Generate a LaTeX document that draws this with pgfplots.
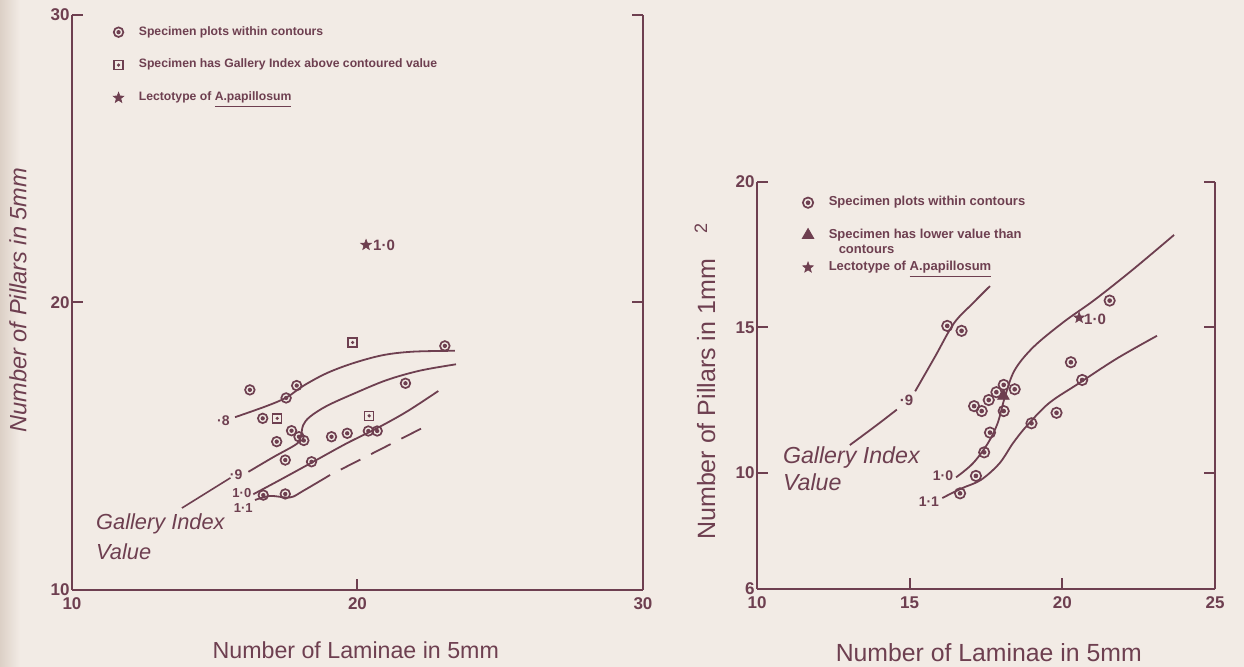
\documentclass[border=0pt]{standalone}
\usepackage{pgfplots}
\pgfplotsset{compat=1.18}
\usepackage{fontspec}
\setmainfont{Liberation Sans}
\definecolor{ink}{HTML}{6E3F50}
\definecolor{bg}{HTML}{F2EBE5}
\definecolor{edge}{HTML}{DCD0C6}

\pgfdeclareplotmark{bull}{%
  \pgfpathcircle{\pgfpointorigin}{\pgfplotmarksize}\pgfusepathqstroke
  \pgfpathcircle{\pgfpointorigin}{0.45\pgfplotmarksize}\pgfusepathqfill}
\pgfdeclareplotmark{sqdot}{%
  \pgfpathrectangle{\pgfpoint{-\pgfplotmarksize}{-\pgfplotmarksize}}{\pgfpoint{2\pgfplotmarksize}{2\pgfplotmarksize}}\pgfusepathqstroke
  \pgfpathcircle{\pgfpointorigin}{0.4\pgfplotmarksize}\pgfusepathqfill}
\pgfdeclareplotmark{fstar}{%
  \pgfpathmoveto{\pgfpointpolar{90}{\pgfplotmarksize}}%
  \pgfpathlineto{\pgfpointpolar{126}{0.42\pgfplotmarksize}}%
  \pgfpathlineto{\pgfpointpolar{162}{\pgfplotmarksize}}%
  \pgfpathlineto{\pgfpointpolar{198}{0.42\pgfplotmarksize}}%
  \pgfpathlineto{\pgfpointpolar{234}{\pgfplotmarksize}}%
  \pgfpathlineto{\pgfpointpolar{270}{0.42\pgfplotmarksize}}%
  \pgfpathlineto{\pgfpointpolar{306}{\pgfplotmarksize}}%
  \pgfpathlineto{\pgfpointpolar{342}{0.42\pgfplotmarksize}}%
  \pgfpathlineto{\pgfpointpolar{18}{\pgfplotmarksize}}%
  \pgfpathlineto{\pgfpointpolar{54}{0.42\pgfplotmarksize}}%
  \pgfpathclose\pgfusepathqfillstroke}

\pgfplotsset{
  scan/.style={
    scale only axis, clip=false,
    axis x line*=bottom, axis y line*=box,
    ytick pos=both, yticklabel pos=left,
    tick align=inside, major tick length=5.5pt,
    axis line style={ink, line width=1pt},
    every tick/.style={ink, line width=1pt},
    /pgf/number format/assume math mode=true,
    ticklabel style={font=\fontsize{8.5}{10}\selectfont\bfseries, text=ink},
    yticklabel style={inner sep=1pt},
    xticklabel style={yshift=-0.5pt},
    legend cell align=left,
    label style={text=ink},
  },
  contour/.style={ink, line width=0.9pt, no marks, smooth, tension=0.55, forget plot},
  pts/.style={only marks, mark=bull, mark size=2.4pt, ink, mark options={line width=0.85pt, fill=ink}},
}

\begin{document}
\begin{tikzpicture}
\fill[bg] (-36pt,-38.5pt) rectangle (586pt,295pt);
\shade[left color=edge, right color=bg] (-36pt,-38.5pt) rectangle (-26pt,295pt);

% ---------------- left panel ----------------
\begin{axis}[scan,
  width=285.5pt, height=287.5pt,
  xmin=10, xmax=30, ymin=10, ymax=30,
  xtick={10,20,30}, ytick={10,20,30},
  xlabel={Number of Laminae in 5mm},
  xlabel style={at={(axis description cs:0.497,-0.104)}, anchor=center, font=\fontsize{11.6}{13}\selectfont},
  ylabel={\itshape Number of Pillars in 5mm},
  ylabel style={at={(axis description cs:-0.0946,0.504)}, anchor=center, font=\fontsize{11.8}{13}\selectfont},
  legend style={draw=none, fill=none, at={(axis description cs:0.061,0.995)}, anchor=north west,
    font=\fontsize{6.1}{7}\selectfont\bfseries, text=ink, row sep=6.5pt,
    /tikz/every odd column/.append style={column sep=5.5pt}},
]
\addplot[pts] coordinates {
(16.23,16.96)(17.87,17.11)(17.50,16.68)(23.06,18.49)(21.68,17.19)(16.68,15.97)
(17.69,15.54)(17.17,15.16)(17.95,15.33)(18.12,15.20)(19.09,15.33)(19.64,15.45)
(20.38,15.53)(20.69,15.53)(17.47,14.52)(18.39,14.46)(16.70,13.30)(17.47,13.34)};
\addlegendentry{Specimen plots within contours}
\addplot[only marks, mark=sqdot, mark size=2.25pt, ink, mark options={line width=0.7pt, fill=ink}] coordinates {
(17.19,15.97)(19.83,18.61)(20.41,16.06)};
\addlegendentry{Specimen has Gallery Index above contoured value}
\addplot[only marks, mark=fstar, mark size=2.8pt, ink, mark options={line width=0.3pt, fill=ink}] coordinates {(20.30,22.0)};
\addlegendentry{Lectotype of \underline{A.papillosum}}

\addplot[contour] coordinates {(15.71,16.01)(16.82,16.40)(17.52,16.70)(18.10,17.10)(18.92,17.54)(19.85,17.89)(20.90,18.17)(21.95,18.29)(23.41,18.32)};
\addplot[contour] coordinates {(16.18,14.11)(17.05,14.62)(17.87,15.08)(18.01,15.33)(18.10,15.74)(18.34,16.03)(18.92,16.40)(19.85,16.82)(21.02,17.30)(22.19,17.63)(23.45,17.85)};
\addplot[contour] coordinates {(16.35,13.33)(17.29,13.83)(18.45,14.46)(19.62,15.10)(20.67,15.62)(21.72,16.20)(22.83,16.92)};
\addplot[contour] coordinates {(16.41,13.13)(16.94,13.27)(17.64,13.22)(18.10,13.45)(19.04,14.0)};
\addplot[ink, line width=0.9pt, no marks, forget plot, dash pattern=on 11pt off 6pt, dash phase=11pt] coordinates {(19.04,14.0)(22.40,15.70)};
\addplot[ink, line width=0.8pt, no marks, forget plot] coordinates {(13.85,12.85)(15.55,13.9)};

\node[text=ink, font=\fontsize{7}{8}\selectfont\bfseries] at (axis cs:15.3,15.9) {·8};
\node[text=ink, font=\fontsize{7}{8}\selectfont\bfseries] at (axis cs:15.75,14.0) {·9};
\node[text=ink, font=\fontsize{6.5}{8}\selectfont\bfseries] at (axis cs:15.95,13.38) {1·0};
\node[text=ink, font=\fontsize{6.5}{8}\selectfont\bfseries] at (axis cs:16.0,12.85) {1·1};
\node[text=ink, font=\fontsize{7.5}{8}\selectfont\bfseries] at (axis cs:20.93,22.0) {1·0};
\node[text=ink, font=\fontsize{10.9}{15}\selectfont\itshape, align=left, anchor=west] at (axis cs:10.6,11.85) {Gallery Index\\Value};
\end{axis}

% ---------------- right panel ----------------
\begin{axis}[scan, at={(342.5pt,0.5pt)}, anchor=south west,
  width=229pt, height=203.5pt,
  xmin=10, xmax=25, ymin=6, ymax=20,
  xtick={10,15,20,25}, ytick={6,10,15,20},
  xlabel={Number of Laminae in 5mm},
  xlabel style={at={(axis description cs:0.506,-0.157)}, anchor=center, font=\fontsize{12.4}{13}\selectfont},
  ylabel={Number of Pillars in 1mm\hspace{13pt}\raisebox{4pt}{\fontsize{9}{9}\selectfont 2}},
  ylabel style={at={(axis description cs:-0.1135,0.51)}, anchor=center, font=\fontsize{12.5}{13}\selectfont},
  legend style={draw=none, fill=none, at={(axis description cs:0.085,0.985)}, anchor=north west,
    font=\fontsize{6.5}{7.5}\selectfont\bfseries, text=ink, row sep=6pt,
    /tikz/every odd column/.append style={column sep=5.5pt}},
]
\addplot[pts, mark size=2.6pt] coordinates {
(16.23,15.05)(16.70,14.88)(21.55,15.92)(20.28,13.80)(20.65,13.19)(19.81,12.06)
(18.99,11.70)(17.11,12.29)(17.36,12.12)(17.59,12.50)(17.84,12.77)(18.08,13.02)
(18.44,12.87)(18.08,12.12)(17.63,11.38)(17.44,10.70)(17.17,9.89)(16.65,9.29)};
\addlegendentry{Specimen plots within contours}
\addplot[only marks, mark=triangle*, mark size=3.3pt, ink, mark options={fill=ink}] coordinates {(18.07,12.64)};
\addlegendentry{\smash{\rlap{\raisebox{-7.5pt}{\hspace{5pt}contours}}}Specimen has lower value than}
\addplot[only marks, mark=fstar, mark size=2.8pt, ink, mark options={line width=0.3pt, fill=ink}] coordinates {(20.55,15.33)};
\addlegendentry{Lectotype of \underline{A.papillosum}}

\addplot[contour] coordinates {(13.04,10.95)(13.9,11.62)(14.58,12.17)};
\addplot[contour] coordinates {(15.18,12.80)(15.83,13.99)(16.45,15.14)(17.07,15.83)(17.63,16.42)};
\addplot[contour] coordinates {(16.52,9.84)(17.07,10.32)(17.56,11.01)(17.88,11.70)(18.12,12.61)(18.44,13.53)(19.06,14.33)(20.05,15.19)(21.05,15.94)(22.29,16.97)(23.66,18.18)};
\addplot[contour] coordinates {(16.07,9.13)(16.70,9.46)(17.33,9.75)(17.94,10.32)(18.38,11.01)(18.81,11.58)(19.56,12.39)(20.55,13.08)(21.79,13.93)(23.10,14.71)};

\node[text=ink, font=\fontsize{7.5}{8}\selectfont\bfseries] at (axis cs:14.9,12.48) {·9};
\node[text=ink, font=\fontsize{7}{8}\selectfont\bfseries, anchor=east, inner sep=1pt] at (axis cs:16.50,9.9) {1·0};
\node[text=ink, font=\fontsize{7}{8}\selectfont\bfseries] at (axis cs:15.63,8.99) {1·1};
\node[text=ink, font=\fontsize{7.5}{8}\selectfont\bfseries] at (axis cs:21.07,15.29) {1·0};
\node[text=ink, font=\fontsize{11.6}{13.5}\selectfont\itshape, align=left, anchor=west] at (axis cs:10.62,10.15) {Gallery Index\\Value};
\end{axis}

\pgfresetboundingbox
\path[use as bounding box] (-36pt,-38.5pt) rectangle (586pt,295pt);
\end{tikzpicture}
\end{document}
